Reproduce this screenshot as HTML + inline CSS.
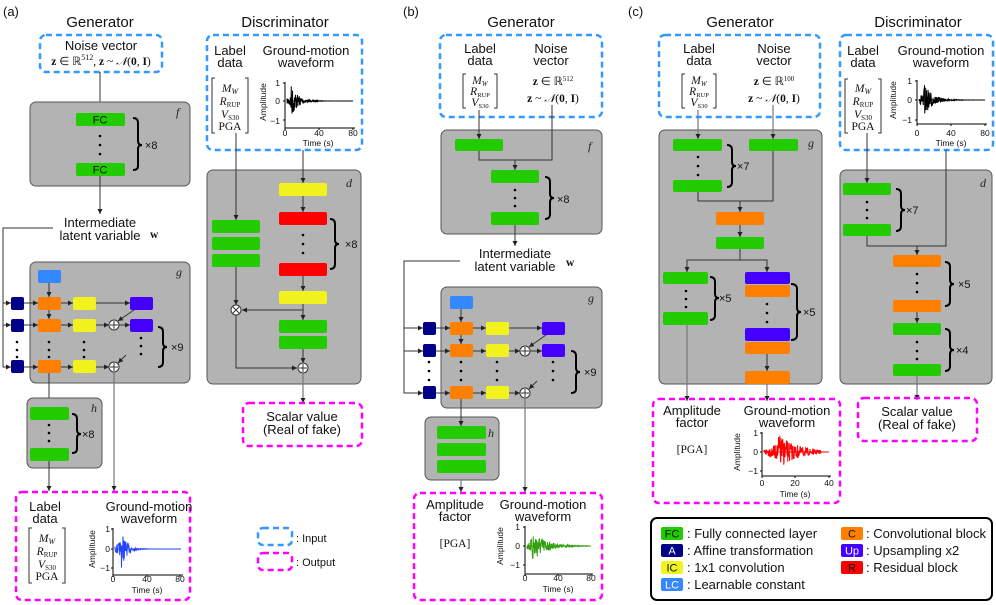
<!DOCTYPE html>
<html><head><meta charset="utf-8">
<style>
html,body{margin:0;padding:0;background:#fff;}
svg{display:block;font-family:"Liberation Sans",sans-serif;}
.h{font-size:15px;text-anchor:middle;fill:#111}
.t{font-size:13px;text-anchor:middle;fill:#111}
.s{font-size:11px;fill:#111}
.m{font-family:"Liberation Serif",serif;font-size:11.5px;fill:#111}
.mi{font-family:"Liberation Serif",serif;font-style:italic;font-size:12px;fill:#222}
.tk{font-size:8.5px;fill:#111}
.gb{fill:#b3b3b3;stroke:#555;stroke-width:1}
.inb{fill:none;stroke:#3399ff;stroke-width:2.5;stroke-dasharray:6 4}
.outb{fill:none;stroke:#ff00ff;stroke-width:2.5;stroke-dasharray:6 4}
.ln{stroke:#333;stroke-width:1;fill:none}
.lg{stroke:#777;stroke-width:1.2;fill:none}
.br{stroke:#000;stroke-width:2;fill:none}
.G{fill:#22cc00}.O{fill:#ff8000}.Y{fill:#f2f21e}.R{fill:#ff0000}.P{fill:#4400ff}.N{fill:#000088}.L{fill:#3388ff}
.lab{font-size:13px;fill:#111}
</style></head><body>
<svg id="sv" width="996" height="605" viewBox="0 0 996 605" xmlns="http://www.w3.org/2000/svg">
<defs>
<marker id="a" markerWidth="6" markerHeight="6" refX="5" refY="3" orient="auto" markerUnits="userSpaceOnUse"><path d="M0,0.5 L5,3 L0,5.5z" fill="#222"/></marker>
</defs>

<!-- ================= PANEL A ================= -->
<text x="3" y="16" class="lab">(a)</text>
<text x="100" y="27" class="h">Generator</text>
<text x="285" y="27" class="h">Discriminator</text>

<rect x="40" y="35" width="122" height="37" rx="6" class="inb"/>
<text x="101" y="50" class="t">Noise vector</text>
<text x="101" y="65" class="m" text-anchor="middle"><tspan font-weight="bold">z</tspan> ∈ ℝ<tspan font-size="8" dy="-5">512</tspan><tspan dy="5">, </tspan><tspan font-weight="bold">z</tspan> ~ <tspan font-style="italic">𝒩</tspan>(<tspan font-weight="bold">0</tspan>, <tspan font-weight="bold">I</tspan>)</text>
<line x1="100" y1="72" x2="100" y2="113" class="ln" marker-end="url(#a)"/>

<rect x="30" y="102" width="160" height="84" rx="6" class="gb"/>
<text x="176" y="116" class="mi" font-size="15">f</text>
<rect x="76" y="113" width="49" height="13" rx="2" class="G"/>
<text x="100" y="123.5" class="s" text-anchor="middle">FC</text>
<rect x="76" y="163" width="49" height="13" rx="2" class="G"/>
<text x="100" y="173.5" class="s" text-anchor="middle">FC</text>
<circle cx="100" cy="136" r="1.3"/><circle cx="100" cy="145" r="1.3"/><circle cx="100" cy="154" r="1.3"/>
<path class="br" d="M133,118 Q138,118 138,123 L138,141 Q138,145 142,145 Q138,145 138,149 L138,166 Q138,170 133,170"/>
<text x="145" y="149" class="s" font-size="12">×8</text>
<line x1="100" y1="176" x2="100" y2="214" class="ln" marker-end="url(#a)"/>
<text x="100" y="227" class="t">Intermediate</text>
<text x="100" y="240" class="t">latent variable</text>
<text x="150" y="238" class="m" font-weight="bold" font-size="14">w</text>

<polyline points="53,228 3,228 3,367 11,367" class="ln" marker-end="url(#a)"/>
<line x1="3" y1="303" x2="11" y2="303" class="ln" marker-end="url(#a)"/>
<line x1="3" y1="325" x2="11" y2="325" class="ln" marker-end="url(#a)"/>

<rect x="30" y="262" width="160" height="121" rx="6" class="gb"/>
<text x="176" y="276" class="mi" font-size="15">g</text>
<rect x="38" y="270" width="23" height="13" rx="2" class="L"/>
<line x1="49" y1="283" x2="49" y2="297" class="ln" marker-end="url(#a)"/>
<line x1="49" y1="310" x2="49" y2="319" class="ln" marker-end="url(#a)"/>
<g>
<rect x="11" y="297" width="13" height="13" rx="2" class="N"/>
<rect x="11" y="319" width="13" height="13" rx="2" class="N"/>
<rect x="11" y="360" width="13" height="13" rx="2" class="N"/>
<rect x="38" y="297" width="23" height="13" rx="2" class="O"/>
<rect x="38" y="319" width="23" height="13" rx="2" class="O"/>
<rect x="38" y="360" width="23" height="13" rx="2" class="O"/>
<rect x="73" y="297" width="23" height="13" rx="2" class="Y"/>
<rect x="73" y="319" width="23" height="13" rx="2" class="Y"/>
<rect x="73" y="360" width="23" height="13" rx="2" class="Y"/>
<rect x="130" y="297" width="23" height="13" rx="2" class="P"/>
<rect x="130" y="319" width="23" height="13" rx="2" class="P"/>
</g>
<g class="ln">
<line x1="24" y1="303" x2="38" y2="303" marker-end="url(#a)"/>
<line x1="24" y1="325" x2="38" y2="325" marker-end="url(#a)"/>
<line x1="24" y1="367" x2="38" y2="367" marker-end="url(#a)"/>
<line x1="61" y1="303" x2="73" y2="303" marker-end="url(#a)"/>
<line x1="61" y1="325" x2="73" y2="325" marker-end="url(#a)"/>
<line x1="61" y1="367" x2="73" y2="367" marker-end="url(#a)"/>
<line x1="96" y1="303" x2="130" y2="303" marker-end="url(#a)"/>
<line x1="96" y1="325" x2="109" y2="325" marker-end="url(#a)"/>
<line x1="96" y1="367" x2="109" y2="367" marker-end="url(#a)"/>
<line x1="119" y1="325" x2="130" y2="325" marker-end="url(#a)"/>
<line x1="134" y1="310" x2="118" y2="321" marker-end="url(#a)"/>
<line x1="126" y1="355" x2="118" y2="363" marker-end="url(#a)"/>
</g>
<circle cx="114" cy="325" r="5" fill="#fff" stroke="#333"/><path d="M110,325h8M114,321v8" class="ln"/>
<circle cx="114" cy="367" r="5" fill="#fff" stroke="#333"/><path d="M110,367h8M114,363v8" class="ln"/>
<g>
<circle cx="17" cy="342" r="1.3"/><circle cx="17" cy="350" r="1.3"/><circle cx="17" cy="357" r="1.3"/>
<circle cx="49" cy="342" r="1.3"/><circle cx="49" cy="350" r="1.3"/><circle cx="49" cy="357" r="1.3"/>
<circle cx="84" cy="342" r="1.3"/><circle cx="84" cy="350" r="1.3"/><circle cx="84" cy="357" r="1.3"/>
<circle cx="141" cy="338" r="1.3"/><circle cx="141" cy="346" r="1.3"/><circle cx="141" cy="354" r="1.3"/>
</g>
<path class="br" d="M158,327 Q163,327 163,332 L163,343 Q163,347 167,347 Q163,347 163,351 L163,362 Q163,367 158,367"/>
<text x="171" y="351" class="s" font-size="12">×9</text>

<line x1="49" y1="373" x2="49" y2="408" class="ln" marker-end="url(#a)"/>
<line x1="114" y1="372" x2="114" y2="491" class="lg" marker-end="url(#a)"/>
<rect x="27" y="398" width="75" height="70" rx="6" class="gb"/>
<text x="91" y="412" class="mi" font-size="14">h</text>
<rect x="30" y="407" width="39" height="13" rx="2" class="G"/>
<rect x="30" y="448" width="39" height="13" rx="2" class="G"/>
<circle cx="49" cy="425" r="1.3"/><circle cx="49" cy="433" r="1.3"/><circle cx="49" cy="441" r="1.3"/>
<path class="br" d="M72,414 Q77,414 77,419 L77,430 Q77,434 81,434 Q77,434 77,438 L77,449 Q77,453 72,453"/>
<text x="82" y="438" class="s" font-size="12">×8</text>
<line x1="49" y1="461" x2="49" y2="491" class="ln" marker-end="url(#a)"/>

<rect x="16" y="492" width="174" height="108" rx="6" class="outb"/>
<text x="45" y="511" class="t">Label</text>
<text x="45" y="523" class="t">data</text>
<g>
<path class="ln" stroke="#555" d="M32,528 h-3 v55 h3 M62,528 h3 v55 h-3"/>
<text x="47" y="542" class="m" text-anchor="middle"><tspan font-style="italic">M</tspan><tspan font-size="8" dy="2" font-style="italic">W</tspan></text>
<text x="47" y="555" class="m" text-anchor="middle"><tspan font-style="italic">R</tspan><tspan font-size="7" dy="2">RUP</tspan></text>
<text x="47" y="568" class="m" text-anchor="middle"><tspan font-style="italic">V</tspan><tspan font-size="7" dy="2">S30</tspan></text>
<text x="47" y="580" class="m" text-anchor="middle">PGA</text>
</g>
<text x="149" y="511" class="t">Ground-motion</text>
<text x="149" y="523" class="t">waveform</text>
<g>
<text x="110" y="532" class="tk" text-anchor="end">1</text>
<text x="110" y="552" class="tk" text-anchor="end">0</text>
<text x="110" y="571" class="tk" text-anchor="end">−1</text>
<text x="113" y="582" class="tk" text-anchor="middle">0</text>
<text x="147" y="582" class="tk" text-anchor="middle">40</text>
<text x="180" y="582" class="tk" text-anchor="middle">80</text>
<text x="147" y="593" class="tk" text-anchor="middle" font-size="9">Time (s)</text>
<text transform="translate(95,549) rotate(-90)" class="tk" text-anchor="middle" font-size="9">Amplitude</text>
</g>

<!-- Discriminator a -->
<rect x="207" y="35" width="155" height="115" rx="6" class="inb"/>
<text x="230" y="55" class="t">Label</text>
<text x="230" y="67" class="t">data</text>
<text x="306" y="55" class="t">Ground-motion</text>
<text x="306" y="67" class="t">waveform</text>
<path class="ln" stroke="#555" d="M215,78 h-3 v55 h3 M245,78 h3 v55 h-3"/>
<text x="230" y="92" class="m" text-anchor="middle"><tspan font-style="italic">M</tspan><tspan font-size="8" dy="2" font-style="italic">W</tspan></text>
<text x="230" y="105" class="m" text-anchor="middle"><tspan font-style="italic">R</tspan><tspan font-size="7" dy="2">RUP</tspan></text>
<text x="230" y="118" class="m" text-anchor="middle"><tspan font-style="italic">V</tspan><tspan font-size="7" dy="2">S30</tspan></text>
<text x="230" y="130" class="m" text-anchor="middle">PGA</text>
<text x="280" y="86" class="tk" text-anchor="end">1</text>
<text x="280" y="104" class="tk" text-anchor="end">0</text>
<text x="280" y="124" class="tk" text-anchor="end">−1</text>
<text x="285" y="136" class="tk" text-anchor="middle">0</text>
<text x="319" y="136" class="tk" text-anchor="middle">40</text>
<text x="353" y="136" class="tk" text-anchor="middle">80</text>
<text x="318" y="146" class="tk" text-anchor="middle" font-size="9">Time (s)</text>
<text transform="translate(266,102) rotate(-90)" class="tk" text-anchor="middle" font-size="9">Amplitude</text>

<rect x="207" y="170" width="154" height="214" rx="6" class="gb"/>
<line x1="236" y1="133" x2="236" y2="220" class="ln" marker-end="url(#a)"/>
<line x1="303" y1="150" x2="303" y2="183" class="ln" marker-end="url(#a)"/>
<text x="346" y="187" class="mi" font-size="15">d</text>
<line x1="303" y1="196" x2="303" y2="212" class="ln" marker-end="url(#a)"/>
<line x1="303" y1="276" x2="303" y2="291" class="ln" marker-end="url(#a)"/>
<polyline points="303,304 303,320" class="ln" marker-end="url(#a)"/>
<line x1="303" y1="310" x2="242" y2="310" class="ln" marker-end="url(#a)"/>
<line x1="236" y1="267" x2="236" y2="305" class="ln" marker-end="url(#a)"/>
<polyline points="236,315 236,368 297,368" class="ln" marker-end="url(#a)"/>
<line x1="303" y1="349" x2="303" y2="363" class="ln" marker-end="url(#a)"/>
<rect x="279" y="183" width="48" height="13" rx="2" class="Y"/>
<rect x="279" y="212" width="48" height="13" rx="2" class="R"/>
<rect x="279" y="263" width="48" height="13" rx="2" class="R"/>
<rect x="279" y="291" width="48" height="13" rx="2" class="Y"/>
<rect x="279" y="320" width="48" height="13" rx="2" class="G"/>
<rect x="279" y="336" width="48" height="13" rx="2" class="G"/>
<rect x="212" y="220" width="48" height="13" rx="2" class="G"/>
<rect x="212" y="237" width="48" height="13" rx="2" class="G"/>
<rect x="212" y="254" width="48" height="13" rx="2" class="G"/>
<circle cx="303" cy="235" r="1.3"/><circle cx="303" cy="244" r="1.3"/><circle cx="303" cy="253" r="1.3"/>
<path class="br" d="M330,219 Q335,219 335,224 L335,240 Q335,244 339,244 Q335,244 335,248 L335,264 Q335,269 330,269"/>
<text x="345" y="248" class="s" font-size="12">×8</text>
<circle cx="236" cy="310" r="5" fill="#fff" stroke="#333"/><path d="M233,307l6,6M239,307l-6,6" class="ln"/>
<circle cx="303" cy="368" r="5" fill="#fff" stroke="#333"/><path d="M299,368h8M303,364v8" class="ln"/>
<line x1="303" y1="373" x2="303" y2="403" class="lg" marker-end="url(#a)"/>
<rect x="243" y="403" width="119" height="43" rx="6" class="outb"/>
<text x="302" y="421" class="t">Scalar value</text>
<text x="302" y="434" class="t">(Real of fake)</text>

<rect x="258" y="528" width="34" height="17" rx="5" class="inb"/>
<text x="296" y="542" class="s" font-size="13">: Input</text>
<rect x="258" y="553" width="34" height="17" rx="5" class="outb"/>
<text x="296" y="566" class="s" font-size="13">: Output</text>

<!-- ================= PANEL B ================= -->
<text x="403" y="16" class="lab">(b)</text>
<text x="521" y="27" class="h">Generator</text>
<rect x="440" y="35" width="162" height="82" rx="6" class="inb"/>
<text x="480" y="53" class="t">Label</text>
<text x="480" y="65" class="t">data</text>
<text x="551" y="53" class="t">Noise</text>
<text x="551" y="65" class="t">vector</text>
<path class="ln" stroke="#555" d="M466,74 h-3 v34 h3 M494,74 h3 v34 h-3"/>
<text x="480" y="84" class="m" text-anchor="middle" font-size="10.5"><tspan font-style="italic">M</tspan><tspan font-size="7" dy="2" font-style="italic">W</tspan></text>
<text x="480" y="95" class="m" text-anchor="middle" font-size="10.5"><tspan font-style="italic">R</tspan><tspan font-size="6.5" dy="2">RUP</tspan></text>
<text x="480" y="106" class="m" text-anchor="middle" font-size="10.5"><tspan font-style="italic">V</tspan><tspan font-size="6.5" dy="2">S30</tspan></text>
<text x="553" y="85" class="m" text-anchor="middle" font-size="10.5"><tspan font-weight="bold">z</tspan> ∈ ℝ<tspan font-size="7" dy="-4">512</tspan></text>
<text x="553" y="102" class="m" text-anchor="middle" font-size="10.5"><tspan font-weight="bold">z</tspan> ~ <tspan font-style="italic">𝒩</tspan>(<tspan font-weight="bold">0</tspan>, <tspan font-weight="bold">I</tspan>)</text>

<rect x="441" y="130" width="161" height="104" rx="6" class="gb"/>
<text x="588" y="150" class="mi" font-size="15">f</text>
<line x1="479" y1="110" x2="479" y2="139" class="ln" marker-end="url(#a)"/>
<polyline points="552,105 552,160 479,160 479,151" class="ln"/>
<line x1="515" y1="160" x2="515" y2="170" class="ln" marker-end="url(#a)"/>
<rect x="455" y="139" width="48" height="12" rx="2" class="G"/>
<rect x="491" y="170" width="48" height="13" rx="2" class="G"/>
<rect x="491" y="212" width="48" height="13" rx="2" class="G"/>
<circle cx="515" cy="190" r="1.3"/><circle cx="515" cy="198" r="1.3"/><circle cx="515" cy="206" r="1.3"/>
<path class="br" d="M545,177 Q550,177 550,182 L550,194 Q550,198 554,198 Q550,198 550,202 L550,214 Q550,219 545,219"/>
<text x="557" y="203" class="s" font-size="12">×8</text>
<line x1="515" y1="225" x2="515" y2="246" class="ln" marker-end="url(#a)"/>
<text x="515" y="258" class="t">Intermediate</text>
<text x="515" y="271" class="t">latent variable</text>
<text x="566" y="266" class="m" font-weight="bold" font-size="14">w</text>

<polyline points="460,261 404,261 404,393 423,393" class="ln" marker-end="url(#a)"/>
<line x1="404" y1="328" x2="423" y2="328" class="ln" marker-end="url(#a)"/>
<line x1="404" y1="351" x2="423" y2="351" class="ln" marker-end="url(#a)"/>

<rect x="441" y="287" width="161" height="121" rx="6" class="gb"/>
<text x="588" y="302" class="mi" font-size="15">g</text>
<rect x="450" y="296" width="23" height="13" rx="2" class="L"/>
<line x1="461" y1="309" x2="461" y2="322" class="ln" marker-end="url(#a)"/>
<line x1="461" y1="334" x2="461" y2="344" class="ln" marker-end="url(#a)"/>
<rect x="423" y="322" width="13" height="13" rx="2" class="N"/>
<rect x="423" y="344" width="13" height="13" rx="2" class="N"/>
<rect x="423" y="386" width="13" height="13" rx="2" class="N"/>
<rect x="450" y="322" width="23" height="13" rx="2" class="O"/>
<rect x="450" y="344" width="23" height="13" rx="2" class="O"/>
<rect x="450" y="386" width="23" height="13" rx="2" class="O"/>
<rect x="486" y="322" width="23" height="13" rx="2" class="Y"/>
<rect x="486" y="344" width="23" height="13" rx="2" class="Y"/>
<rect x="486" y="386" width="23" height="13" rx="2" class="Y"/>
<rect x="542" y="322" width="23" height="13" rx="2" class="P"/>
<rect x="542" y="344" width="23" height="13" rx="2" class="P"/>
<g class="ln">
<line x1="436" y1="328" x2="450" y2="328" marker-end="url(#a)"/>
<line x1="436" y1="351" x2="450" y2="351" marker-end="url(#a)"/>
<line x1="436" y1="393" x2="450" y2="393" marker-end="url(#a)"/>
<line x1="473" y1="328" x2="486" y2="328" marker-end="url(#a)"/>
<line x1="473" y1="351" x2="486" y2="351" marker-end="url(#a)"/>
<line x1="473" y1="393" x2="486" y2="393" marker-end="url(#a)"/>
<line x1="509" y1="328" x2="542" y2="328" marker-end="url(#a)"/>
<line x1="509" y1="351" x2="520" y2="351" marker-end="url(#a)"/>
<line x1="509" y1="393" x2="520" y2="393" marker-end="url(#a)"/>
<line x1="530" y1="351" x2="542" y2="351" marker-end="url(#a)"/>
<line x1="546" y1="335" x2="529" y2="347" marker-end="url(#a)"/>
<line x1="537" y1="381" x2="529" y2="389" marker-end="url(#a)"/>
</g>
<circle cx="525" cy="351" r="5" fill="#fff" stroke="#333"/><path d="M521,351h8M525,347v8" class="ln"/>
<circle cx="525" cy="393" r="5" fill="#fff" stroke="#333"/><path d="M521,393h8M525,389v8" class="ln"/>
<circle cx="429" cy="362" r="1.3"/><circle cx="429" cy="371" r="1.3"/><circle cx="429" cy="380" r="1.3"/>
<circle cx="461" cy="362" r="1.3"/><circle cx="461" cy="371" r="1.3"/><circle cx="461" cy="380" r="1.3"/>
<circle cx="497" cy="362" r="1.3"/><circle cx="497" cy="371" r="1.3"/><circle cx="497" cy="380" r="1.3"/>
<circle cx="553" cy="362" r="1.3"/><circle cx="553" cy="371" r="1.3"/><circle cx="553" cy="380" r="1.3"/>
<path class="br" d="M571,351 Q576,351 576,356 L576,368 Q576,372 580,372 Q576,372 576,376 L576,389 Q576,393 571,393"/>
<text x="584" y="376" class="s" font-size="12">×9</text>

<line x1="525" y1="398" x2="525" y2="492" class="lg" marker-end="url(#a)"/>
<rect x="425" y="417" width="74" height="63" rx="6" class="gb"/>
<line x1="461" y1="399" x2="461" y2="426" class="ln" marker-end="url(#a)"/>
<text x="488" y="437" class="mi" font-size="14">h</text>
<rect x="437" y="426" width="49" height="13" rx="2" class="G"/>
<rect x="437" y="443" width="49" height="13" rx="2" class="G"/>
<rect x="437" y="460" width="49" height="13" rx="2" class="G"/>
<line x1="461" y1="480" x2="461" y2="492" class="lg" marker-end="url(#a)"/>

<rect x="414" y="493" width="188" height="107" rx="6" class="outb"/>
<text x="455" y="509" class="t">Amplitude</text>
<text x="455" y="521" class="t">factor</text>
<text x="455" y="547" class="m" font-size="16" text-anchor="middle">[PGA]</text>
<text x="543" y="509" class="t">Ground-motion</text>
<text x="543" y="521" class="t">waveform</text>
<text x="520" y="530" class="tk" text-anchor="end">1</text>
<text x="520" y="549" class="tk" text-anchor="end">0</text>
<text x="520" y="568" class="tk" text-anchor="end">−1</text>
<text x="525" y="581" class="tk" text-anchor="middle">0</text>
<text x="558" y="581" class="tk" text-anchor="middle">40</text>
<text x="591" y="581" class="tk" text-anchor="middle">80</text>
<text x="558" y="592" class="tk" text-anchor="middle" font-size="9">Time (s)</text>
<text transform="translate(503,546) rotate(-90)" class="tk" text-anchor="middle" font-size="9">Amplitude</text>

<!-- ================= PANEL C ================= -->
<text x="628" y="16" class="lab">(c)</text>
<text x="740" y="27" class="h">Generator</text>
<text x="918" y="27" class="h">Discriminator</text>
<rect x="659" y="35" width="161" height="82" rx="6" class="inb"/>
<text x="699" y="53" class="t">Label</text>
<text x="699" y="65" class="t">data</text>
<text x="774" y="53" class="t">Noise</text>
<text x="774" y="65" class="t">vector</text>
<path class="ln" stroke="#555" d="M685,74 h-3 v34 h3 M713,74 h3 v34 h-3"/>
<text x="699" y="84" class="m" text-anchor="middle" font-size="10.5"><tspan font-style="italic">M</tspan><tspan font-size="7" dy="2" font-style="italic">W</tspan></text>
<text x="699" y="95" class="m" text-anchor="middle" font-size="10.5"><tspan font-style="italic">R</tspan><tspan font-size="6.5" dy="2">RUP</tspan></text>
<text x="699" y="106" class="m" text-anchor="middle" font-size="10.5"><tspan font-style="italic">V</tspan><tspan font-size="6.5" dy="2">S30</tspan></text>
<text x="774" y="85" class="m" text-anchor="middle" font-size="10.5"><tspan font-weight="bold">z</tspan> ∈ ℝ<tspan font-size="7" dy="-4">100</tspan></text>
<text x="774" y="102" class="m" text-anchor="middle" font-size="10.5"><tspan font-weight="bold">z</tspan> ~ <tspan font-style="italic">𝒩</tspan>(<tspan font-weight="bold">0</tspan>, <tspan font-weight="bold">I</tspan>)</text>

<rect x="659" y="130" width="163" height="254" rx="6" class="gb"/>
<text x="808" y="147" class="mi" font-size="15">g</text>
<line x1="698" y1="110" x2="698" y2="139" class="lg" marker-end="url(#a)"/>
<line x1="773" y1="105" x2="773" y2="139" class="lg" marker-end="url(#a)"/>
<rect x="673" y="139" width="49" height="12" rx="2" class="G"/>
<rect x="673" y="180" width="49" height="12" rx="2" class="G"/>
<rect x="749" y="139" width="49" height="12" rx="2" class="G"/>
<circle cx="698" cy="157" r="1.3"/><circle cx="698" cy="166" r="1.3"/><circle cx="698" cy="175" r="1.3"/>
<path class="br" d="M727,145 Q732,145 732,150 L732,162 Q732,166 736,166 Q732,166 732,170 L732,182 Q732,187 727,187"/>
<text x="737" y="170" class="s" font-size="12">×7</text>
<polyline points="698,192 698,201 773,201 773,151" class="ln"/>
<line x1="740" y1="201" x2="740" y2="212" class="ln" marker-end="url(#a)"/>
<rect x="716" y="212" width="48" height="13" rx="2" class="O"/>
<line x1="740" y1="225" x2="740" y2="237" class="ln" marker-end="url(#a)"/>
<rect x="716" y="237" width="48" height="12" rx="2" class="G"/>
<polyline points="740,249 740,260" class="ln"/>
<polyline points="687,272 687,260 767,260 767,272" class="ln"/>
<line x1="687" y1="262" x2="687" y2="272" class="ln" marker-end="url(#a)"/>
<line x1="767" y1="262" x2="767" y2="272" class="ln" marker-end="url(#a)"/>
<rect x="663" y="272" width="45" height="12" rx="2" class="G"/>
<rect x="663" y="312" width="45" height="13" rx="2" class="G"/>
<circle cx="686" cy="291" r="1.3"/><circle cx="686" cy="299" r="1.3"/><circle cx="686" cy="307" r="1.3"/>
<path class="br" d="M710,277 Q715,277 715,282 L715,294 Q715,298 719,298 Q715,298 715,302 L715,315 Q715,320 710,320"/>
<text x="719" y="302" class="s" font-size="12">×5</text>
<rect x="745" y="272" width="45" height="12" rx="2" class="P"/>
<rect x="745" y="285" width="45" height="12" rx="2" class="O"/>
<rect x="745" y="328" width="45" height="13" rx="2" class="P"/>
<rect x="745" y="342" width="45" height="12" rx="2" class="O"/>
<circle cx="767" cy="304" r="1.3"/><circle cx="767" cy="313" r="1.3"/><circle cx="767" cy="322" r="1.3"/>
<path class="br" d="M791,284 Q797,284 797,289 L797,308 Q797,312 801,312 Q797,312 797,316 L797,335 Q797,340 791,340"/>
<text x="803" y="316" class="s" font-size="12">×5</text>
<line x1="767" y1="354" x2="767" y2="371" class="ln" marker-end="url(#a)"/>
<rect x="745" y="371" width="45" height="13" rx="2" class="O"/>
<line x1="687" y1="325" x2="687" y2="401" class="lg" marker-end="url(#a)"/>
<line x1="767" y1="384" x2="767" y2="401" class="lg" marker-end="url(#a)"/>

<rect x="653" y="399" width="187" height="104" rx="6" class="outb"/>
<text x="692" y="415" class="t">Amplitude</text>
<text x="692" y="427" class="t">factor</text>
<text x="692" y="453" class="m" font-size="16" text-anchor="middle">[PGA]</text>
<text x="787" y="415" class="t">Ground-motion</text>
<text x="787" y="427" class="t">waveform</text>
<text x="758" y="436" class="tk" text-anchor="end">1</text>
<text x="758" y="455" class="tk" text-anchor="end">0</text>
<text x="758" y="474" class="tk" text-anchor="end">−1</text>
<text x="762" y="486" class="tk" text-anchor="middle">0</text>
<text x="795" y="486" class="tk" text-anchor="middle">20</text>
<text x="829" y="486" class="tk" text-anchor="middle">40</text>
<text x="795" y="497" class="tk" text-anchor="middle" font-size="9">Time (s)</text>
<text transform="translate(740,452) rotate(-90)" class="tk" text-anchor="middle" font-size="9">Amplitude</text>

<!-- disc c -->
<rect x="840" y="35" width="153" height="115" rx="6" class="inb"/>
<text x="863" y="55" class="t">Label</text>
<text x="863" y="67" class="t">data</text>
<text x="941" y="55" class="t">Ground-motion</text>
<text x="941" y="67" class="t">waveform</text>
<path class="ln" stroke="#555" d="M848,79 h-3 v54 h3 M878,79 h3 v54 h-3"/>
<text x="863" y="92" class="m" text-anchor="middle"><tspan font-style="italic">M</tspan><tspan font-size="8" dy="2" font-style="italic">W</tspan></text>
<text x="863" y="105" class="m" text-anchor="middle"><tspan font-style="italic">R</tspan><tspan font-size="7" dy="2">RUP</tspan></text>
<text x="863" y="118" class="m" text-anchor="middle"><tspan font-style="italic">V</tspan><tspan font-size="7" dy="2">S30</tspan></text>
<text x="863" y="130" class="m" text-anchor="middle">PGA</text>
<text x="912" y="84" class="tk" text-anchor="end">1</text>
<text x="912" y="103" class="tk" text-anchor="end">0</text>
<text x="912" y="123" class="tk" text-anchor="end">−1</text>
<text x="917" y="136" class="tk" text-anchor="middle">0</text>
<text x="951" y="136" class="tk" text-anchor="middle">40</text>
<text x="985" y="136" class="tk" text-anchor="middle">80</text>
<text x="951" y="146" class="tk" text-anchor="middle" font-size="9">Time (s)</text>
<text transform="translate(896,100) rotate(-90)" class="tk" text-anchor="middle" font-size="9">Amplitude</text>

<rect x="840" y="170" width="152" height="214" rx="6" class="gb"/>
<text x="980" y="187" class="mi" font-size="15">d</text>
<line x1="867" y1="133" x2="867" y2="183" class="ln" marker-end="url(#a)"/>
<rect x="843" y="183" width="48" height="12" rx="2" class="G"/>
<rect x="843" y="224" width="48" height="12" rx="2" class="G"/>
<circle cx="867" cy="202" r="1.3"/><circle cx="867" cy="210" r="1.3"/><circle cx="867" cy="218" r="1.3"/>
<path class="br" d="M896,189 Q901,189 901,194 L901,206 Q901,210 905,210 Q901,210 901,214 L901,226 Q901,231 896,231"/>
<text x="906" y="214" class="s" font-size="12">×7</text>
<polyline points="867,236 867,246 946,246 946,150" class="ln"/>
<line x1="917" y1="246" x2="917" y2="255" class="ln" marker-end="url(#a)"/>
<rect x="893" y="255" width="48" height="12" rx="2" class="O"/>
<rect x="893" y="300" width="48" height="12" rx="2" class="O"/>
<circle cx="917" cy="274" r="1.3"/><circle cx="917" cy="283" r="1.3"/><circle cx="917" cy="292" r="1.3"/>
<path class="br" d="M945,262 Q950,262 950,267 L950,280 Q950,284 954,284 Q950,284 950,288 L950,301 Q950,306 945,306"/>
<text x="958" y="288" class="s" font-size="12">×5</text>
<line x1="917" y1="312" x2="917" y2="323" class="ln" marker-end="url(#a)"/>
<rect x="893" y="323" width="48" height="12" rx="2" class="G"/>
<rect x="893" y="364" width="48" height="12" rx="2" class="G"/>
<circle cx="917" cy="342" r="1.3"/><circle cx="917" cy="351" r="1.3"/><circle cx="917" cy="359" r="1.3"/>
<path class="br" d="M945,329 Q950,329 950,334 L950,346 Q950,350 954,350 Q950,350 950,354 L950,366 Q950,371 945,371"/>
<text x="956" y="354" class="s" font-size="12">×4</text>
<line x1="917" y1="376" x2="917" y2="400" class="lg" marker-end="url(#a)"/>
<rect x="858" y="398" width="119" height="43" rx="6" class="outb"/>
<text x="917" y="416" class="t">Scalar value</text>
<text x="917" y="429" class="t">(Real of fake)</text>

<!-- legend -->
<rect x="651" y="518" width="341" height="82" rx="6" fill="none" stroke="#000" stroke-width="2"/>
<g font-size="13">
<rect x="661" y="527" width="22" height="13" rx="2" class="G"/><text x="672" y="537.5" class="s" text-anchor="middle">FC</text>
<text x="687" y="538" fill="#111">: Fully connected layer</text>
<rect x="661" y="544" width="22" height="13" rx="2" class="N"/><text x="672" y="554.5" class="s" style="fill:#fff" text-anchor="middle">A</text>
<text x="687" y="555" fill="#111">: Affine transformation</text>
<rect x="661" y="561" width="22" height="13" rx="2" class="Y"/><text x="672" y="571.5" class="s" text-anchor="middle">IC</text>
<text x="687" y="572" fill="#111">: 1x1 convolution</text>
<rect x="661" y="578" width="22" height="13" rx="2" class="L"/><text x="672" y="588.5" class="s" style="fill:#fff" text-anchor="middle">LC</text>
<text x="687" y="589" fill="#111">: Learnable constant</text>
<rect x="841" y="527" width="22" height="13" rx="2" class="O"/><text x="852" y="537.5" class="s" text-anchor="middle">C</text>
<text x="866" y="538" fill="#111">: Convolutional block</text>
<rect x="841" y="544" width="22" height="13" rx="2" class="P"/><text x="852" y="554.5" class="s" style="fill:#fff" text-anchor="middle">Up</text>
<text x="866" y="555" fill="#111">: Upsampling x2</text>
<rect x="841" y="561" width="22" height="13" rx="2" class="R"/><text x="852" y="571.5" class="s" text-anchor="middle">R</text>
<text x="866" y="572" fill="#111">: Residual block</text>
</g>
<g id="plots"></g>
</svg>
<script>
(function(){
var g=document.getElementById('plots');var NS='http://www.w3.org/2000/svg';
var seed=7;function rnd(){seed=(seed*16807)%2147483647;return seed/2147483647*2-1;}
function el(n,a){var e=document.createElementNS(NS,n);for(var k in a)e.setAttribute(k,a[k]);g.appendChild(e);return e;}
function plot(x0,y1,yz,ym,xe,yb,col,on,dec,ext,tick){
 el('path',{d:'M'+x0+','+(y1-1)+' V'+yb+' H'+xe,stroke:'#000','stroke-width':1,fill:'none'});
 [y1,yz,ym].forEach(function(y){el('line',{x1:x0-2,y1:y,x2:x0,y2:y,stroke:'#000'});});
 tick.forEach(function(x){el('line',{x1:x,y1:yb,x2:x,y2:yb+2,stroke:'#000'});});
 var amp=(yz-y1),d='M'+(x0+2)+','+yz,w=(xe-x0-4)*ext;
 el('line',{x1:x0+2,y1:yz,x2:xe-2,y2:yz,stroke:col,'stroke-width':1});
 for(var i=0;i<w*4;i++){var x=x0+2+i/4;var t=i/(w*4);var env;
  if(t<on)env=0.15+0.3*t/on;else env=Math.exp(-(t-on)*dec);
  var v=rnd()*env*amp*0.95; d+=' L'+x.toFixed(2)+','+(yz+v).toFixed(2);}
 el('path',{d:d,stroke:col,'stroke-width':1,fill:'none'});
}
plot(285,83,101,120,355,128,'#000',0.08,7,0.75,[285,319,353]);
plot(113,529,549,568,183,575,'#2244ff',0.1,12,0.98,[113,147,180]);
plot(525,527,546,565,593,574,'#33a010',0.08,5,0.98,[525,558,591]);
plot(762,433,452,471,831,476,'#ff0000',0.25,3,0.88,[762,795,829]);
plot(917,81,100,120,987,124,'#000',0.08,7,0.9,[917,951,985]);
})();
</script>
</body></html>
